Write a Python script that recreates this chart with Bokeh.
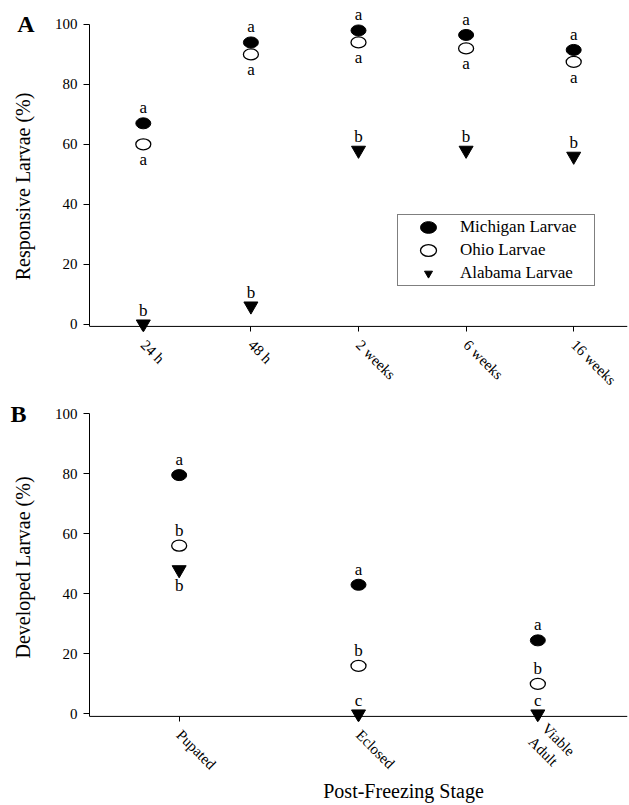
import math
from bokeh.plotting import figure
from bokeh.models import (ColumnDataSource, LabelSet, Legend, LegendItem,
                          Range1d, FixedTicker, LinearAxis, Span)
from bokeh.layouts import column
from bokeh.embed import file_html
from bokeh.resources import INLINE

FONT = "Liberation Serif"

# ---------------- Panel A data ----------------
times = ["24 h", "48 h", "2 weeks", "6 weeks", "16 weeks"]
michigan_resp = [67, 94, 98, 96.5, 91.5]
ohio_resp = [60, 90, 94, 92, 87.5]
alabama_resp = [0, 6, 58, 58, 56]
michigan_resp_letters = ["a", "a", "a", "a", "a"]
ohio_resp_letters = ["a", "a", "a", "a", "a"]
alabama_resp_letters = ["b", "b", "b", "b", "b"]
michigan_resp_sides = ["above", "above", "above", "above", "above"]
ohio_resp_sides = ["below", "below", "below", "below", "below"]
alabama_resp_sides = ["above", "above", "above", "above", "above"]

# ---------------- Panel B data ----------------
stages = ["Pupated", "Eclosed", "Viable\nAdult"]
michigan_dev = [79.5, 43, 24.5]
ohio_dev = [56, 16, 10]
alabama_dev = [48, 0, 0]
michigan_dev_letters = ["a", "a", "a"]
ohio_dev_letters = ["b", "b", "b"]
alabama_dev_letters = ["b", "c", "c"]
michigan_dev_sides = ["above", "above", "above"]
ohio_dev_sides = ["above", "above", "above"]
alabama_dev_sides = ["below", "above", "above"]

series_names = ["Michigan Larvae", "Ohio Larvae", "Alabama Larvae"]
y_ticks = [0, 20, 40, 60, 80, 100]
y_title_a = "Responsive  Larvae (%)"
y_title_b = "Developed Larvae (%)"
x_title_b = "Post-Freezing Stage"

Y_BOTTOM = -2.5
AXIS_Y = -0.8
NBSP = "\u00a0"


def make_panel(cats, series, ylabel, panel_letter, height, top, bottom, y_top,
               letter_standoff, title_standoff):
    n = len(cats)
    xs = list(range(1, n + 1))
    p = figure(width=629, height=height,
               x_range=Range1d(0.5, n + 0.5), y_range=Range1d(Y_BOTTOM, y_top),
               output_backend="svg", toolbar_location=None,
               min_border_left=89, min_border_right=2,
               min_border_top=top, min_border_bottom=bottom)
    p.outline_line_color = None
    p.xgrid.visible = False
    p.ygrid.visible = False
    p.background_fill_color = "white"
    p.border_fill_color = "white"

    xa = p.xaxis[0]
    ya = p.yaxis[0]
    xa.ticker = FixedTicker(ticks=xs)
    xa.major_label_overrides = {i: c for i, c in zip(xs, cats)}
    xa.major_label_orientation = -math.pi / 4
    xa.major_tick_out = 0
    xa.major_tick_in = 5
    xa.minor_tick_line_color = None
    xa.major_label_standoff = 11
    xa.major_label_text_font = FONT
    xa.major_label_text_font_size = "15px"
    xa.major_label_text_color = "black"
    xa.axis_line_color = None
    xa.major_tick_line_color = "black"
    p.add_layout(Span(location=AXIS_Y, dimension="width", line_color="black", line_width=1))

    ya.bounds = (AXIS_Y, 100)
    ya.ticker = FixedTicker(ticks=y_ticks)
    ya.major_tick_out = 6
    ya.major_tick_in = 0
    ya.minor_tick_line_color = None
    ya.major_label_standoff = 6
    ya.major_label_text_font = FONT
    ya.major_label_text_font_size = "15px"
    ya.major_label_text_color = "black"
    ya.axis_line_color = "black"
    ya.major_tick_line_color = "black"

    # outer left axis carrying the panel letter and the y title
    ax2 = LinearAxis(ticker=FixedTicker(ticks=[100]), major_label_overrides={100: panel_letter},
                     axis_line_color=None, major_tick_line_color=None,
                     minor_tick_line_color=None, major_tick_in=0, major_tick_out=0,
                     major_label_standoff=letter_standoff,
                     major_label_text_font=FONT, major_label_text_font_size="24px",
                     major_label_text_font_style="bold", major_label_text_color="black",
                     axis_label=ylabel, axis_label_standoff=title_standoff,
                     axis_label_text_font=FONT, axis_label_text_font_size="20px",
                     axis_label_text_font_style="normal", axis_label_text_color="black")
    p.add_layout(ax2, "left")

    rends = []
    for vals, letters, sides, kind in series:
        if kind == "tri":
            offs = [8 if s == "above" else -21 for s in sides]
        else:
            offs = [10 if s == "above" else -21 for s in sides]
        src = ColumnDataSource(dict(x=xs, y=vals, letter=letters, off=offs))
        if kind == "filled":
            r = p.ellipse(x="x", y="y", width=15, height=11, width_units="screen",
                          height_units="screen", fill_color="black", line_color="black",
                          line_width=1, source=src)
        elif kind == "open":
            r = p.ellipse(x="x", y="y", width=15, height=11, width_units="screen",
                          height_units="screen", fill_color="white", line_color="black",
                          line_width=1.3, source=src)
        else:
            r = p.scatter(x="x", y="y", marker="inverted_triangle", size=14,
                          fill_color="black", line_color="black", source=src)
        rends.append(r)
        p.add_layout(LabelSet(x="x", y="y", text="letter", y_offset="off", source=src,
                              text_align="center", text_baseline="alphabetic",
                              text_font=FONT, text_font_size="17px", text_color="black"))
    return p, rends


# trailing no-break spaces push the centred y title down a little, as in the reference
pA, rA = make_panel(times,
                    [(michigan_resp, michigan_resp_letters, michigan_resp_sides, "filled"),
                     (ohio_resp, ohio_resp_letters, ohio_resp_sides, "open"),
                     (alabama_resp, alabama_resp_letters, alabama_resp_sides, "tri")],
                    y_title_a + NBSP * 6, "A", height=396, top=6, bottom=64, y_top=106,
                    letter_standoff=17, title_standoff=-20)

legend = Legend(items=[LegendItem(label=nm, renderers=[r]) for nm, r in zip(series_names, rA)],
                location=(308, 45), padding=2, spacing=3, glyph_width=56, glyph_height=20,
                label_height=20, label_width=132, label_standoff=4,
                label_text_font=FONT, label_text_font_size="17px", label_text_color="black",
                border_line_color="black", border_line_width=1, background_fill_color="white",
                background_fill_alpha=1.0, margin=0)
pA.add_layout(legend)

pB, rB = make_panel(stages,
                    [(michigan_dev, michigan_dev_letters, michigan_dev_sides, "filled"),
                     (ohio_dev, ohio_dev_letters, ohio_dev_sides, "open"),
                     (alabama_dev, alabama_dev_letters, alabama_dev_sides, "tri")],
                    y_title_b, "B", height=409, top=17, bottom=84, y_top=100,
                    letter_standoff=25, title_standoff=-27)

xb = pB.xaxis[0]
# leading no-break spaces shift the centred title right, as in the reference
xb.axis_label = NBSP * 18 + x_title_b
xb.axis_label_standoff = -8
xb.axis_label_text_font = FONT
xb.axis_label_text_font_size = "20px"
xb.axis_label_text_font_style = "normal"
xb.axis_label_text_color = "black"

layout = column(pA, pB, spacing=0)
open("out.html", "w").write(file_html(layout, INLINE))
